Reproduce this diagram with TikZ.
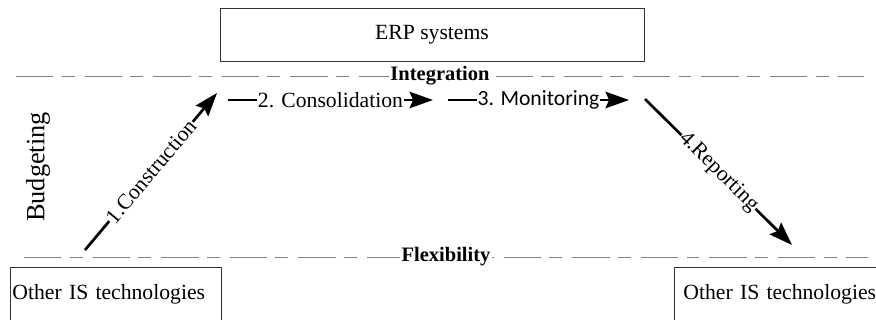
\documentclass[tikz,border=0pt]{standalone}
\usepackage{fontspec}
\setmainfont{Liberation Serif}
\newfontfamily\calibrifont{Carlito}
\usetikzlibrary{arrows.meta}

\tikzset{
  box/.style={draw=black!80, line width=0.8pt, inner sep=0pt, font=\fontsize{18.5}{21}\selectfont},
  bound/.style={draw=gray, line width=0.6pt, dash pattern=on 32pt off 7pt on 11pt off 8.5pt},
  boundlabel/.style={fill=white, inner sep=1pt, font=\fontsize{17.5}{20}\selectfont\bfseries},
  flow/.style={line width=2.3pt, -{Stealth[length=20pt,width=14pt,inset=3pt]}},
  flowlabel/.style={fill=white, inner sep=0.5pt, sloped, font=\fontsize{18.5}{21}\selectfont},
}

\begin{document}
\begin{tikzpicture}[x=0.03cm, y=-0.03cm]
  \clip (0,0) rectangle (876,320);
  % systems
  \node[box, minimum width=12.72cm, minimum height=1.59cm] (erp) at (432,34.5) {ERP systems};
  \node[box, anchor=base west, inner xsep=0.06cm, text width=6.21cm, align=left,
        text height=0.99cm, text depth=1.8cm] (oisl) at (10,300) {Other IS technologies};
  \node[box, anchor=base west, inner xsep=0.27cm, text width=6.2cm, align=left,
        text height=0.96cm, text depth=1.8cm] (oisr) at (674,299) {Other IS technologies};

  % levels
  \coordinate (il) at (16,76);  \coordinate (ir) at (864,76);
  \coordinate (fl) at (24,257); \coordinate (fr) at (868,257);
  \draw[bound] (il) -- node[boundlabel] (integ) {Integration} (ir);
  \draw[bound] (fl) -- node[boundlabel] (flex) {Flexibility} (fr);
  \node[rotate=90, font=\fontsize{22.5}{26}\selectfont] (budget) at (38,167) {Budgeting};

  % process steps
  \coordinate (c1s) at (85,250);  \coordinate (c1e) at (217,93);
  \coordinate (c2s) at (228,100); \coordinate (c2e) at (433,100);
  \coordinate (c3s) at (448,100); \coordinate (c3e) at (629,100);
  \coordinate (c4s) at (645,99);  \coordinate (c4e) at (792,245);
  \foreach \s/\e/\t in {c1s/c1e/1.Construction, c2s/c2e/2. Consolidation,
                        c3s/c3e/{\calibrifont 3. Monitoring}, c4s/c4e/4.Reporting}
    \draw[flow] (\s) -- node[flowlabel] (lab\s) {\t} (\e);
\end{tikzpicture}
\end{document}
